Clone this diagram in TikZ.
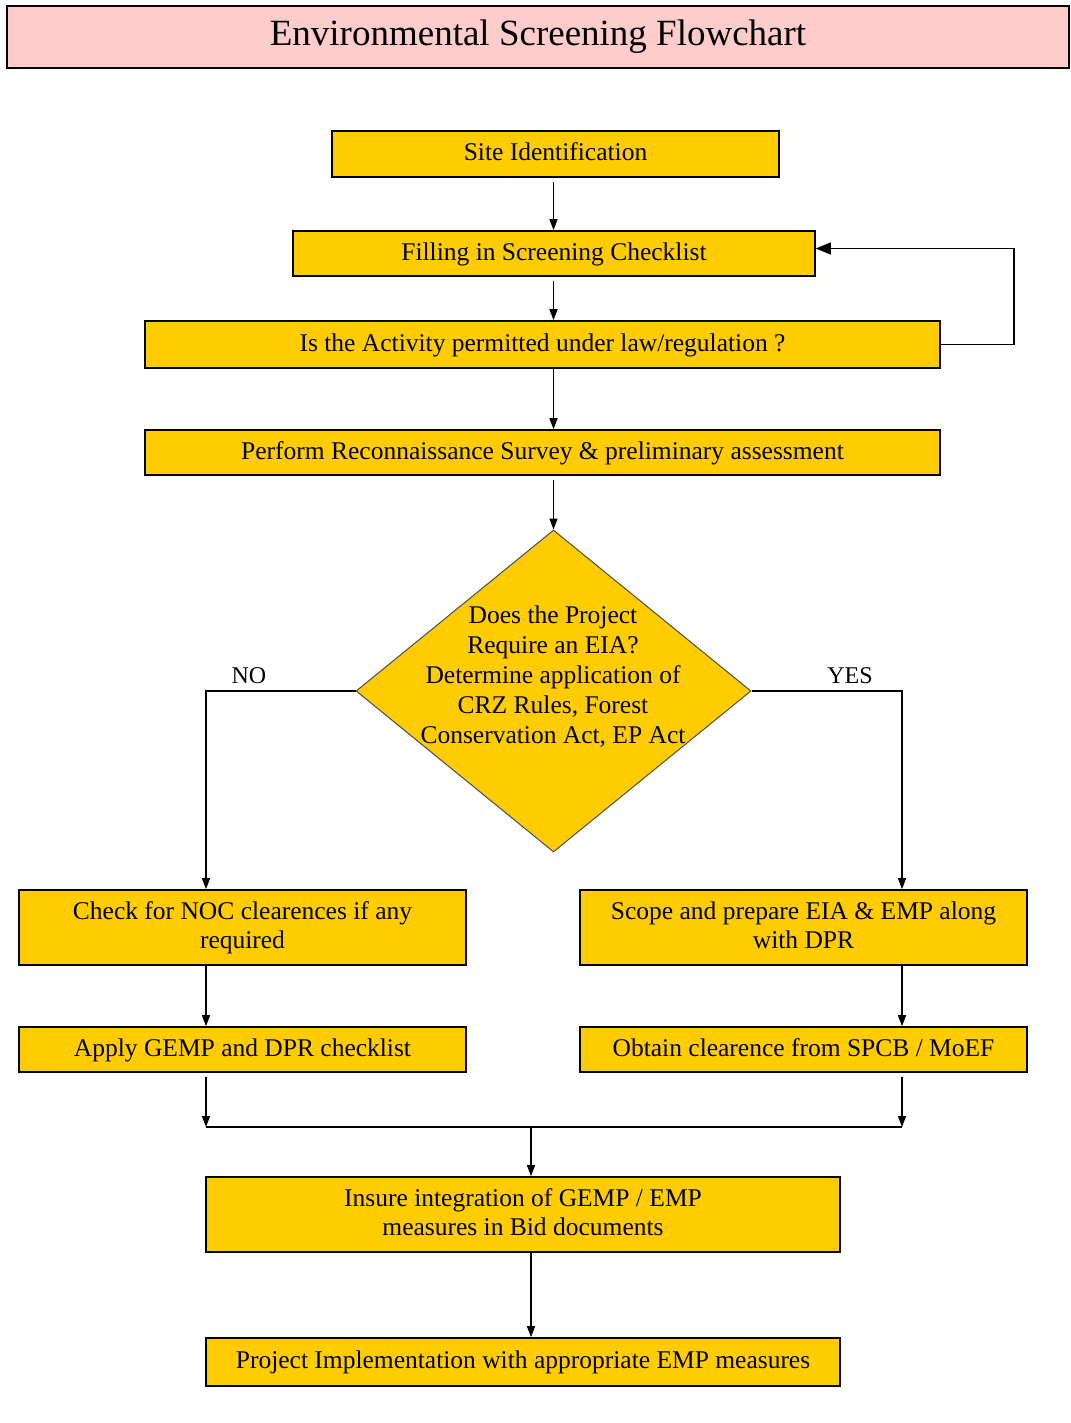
\documentclass[tikz,border=0pt]{standalone}
\usepackage{fontspec}
\setmainfont{Liberation Serif}
\usetikzlibrary{arrows.meta,shapes.geometric}
\definecolor{gold}{HTML}{FFCC00}
\definecolor{pinkbg}{HTML}{FFCCCC}
\newcommand{\topstrut}{\rule{0pt}{19pt}}
\newcommand{\botstrut}{\rule[-5pt]{0pt}{5pt}}
\tikzset{
  box/.style={draw=black, line width=1.6pt, fill=gold, rectangle, inner sep=0pt, align=center,
    font=\fontsize{25.5}{29}\selectfont, execute at begin node=\topstrut, execute at end node=\botstrut},
  conn/.style={line width=1.4pt, -{Triangle[length=11pt,width=8pt]}},
  plain/.style={line width=1.4pt},
  lbl/.style={font=\fontsize{24}{26}\selectfont, inner sep=0pt}
}
\begin{document}
\begin{tikzpicture}[x=1pt,y=-1pt]
\useasboundingbox (0,0) rectangle (1070,1423);
\node[draw=black, line width=2pt, fill=pinkbg, minimum width=1062, minimum height=62, inner sep=0pt,
  font=\fontsize{37}{40}\selectfont] (title) at (538,37) {Environmental Screening Flowchart};

\node[box, minimum width=447, minimum height=46] (site) at (555.5,154) {Site Identification};
\node[box, minimum width=522, minimum height=45] (fill) at (554,253.5) {Filling in Screening Checklist};
\node[box, minimum width=795, minimum height=47] (is) at (542.5,344.5) {Is the Activity permitted under law/regulation ?};
\node[box, minimum width=795, minimum height=45] (perf) at (542.5,452.5) {Perform Reconnaissance Survey \& preliminary assessment};
\node[draw=black!70, line width=1pt, fill=gold, diamond, minimum width=395, minimum height=322, inner sep=0pt] (dia) at (553.5,691) {};
\node[align=center, inner sep=0pt, font=\fontsize{25.5}{30}\selectfont] (diat) at (553,677) {Does the Project\\Require an EIA?\\Determine application of\\CRZ Rules, Forest\\Conservation Act, EP Act};

\node[box, minimum width=447, minimum height=75] (check) at (242.5,927.5) {Check for NOC clearences if any\\required};
\node[box, minimum width=447, minimum height=75] (scope) at (803.5,927.5) {Scope and prepare EIA \& EMP along\\with DPR};
\node[box, minimum width=447, minimum height=45] (apply) at (242.5,1049.5) {Apply GEMP and DPR checklist};
\node[box, minimum width=447, minimum height=45] (obtain) at (803.5,1049.5) {Obtain clearence from SPCB / MoEF};
\node[box, minimum width=634, minimum height=75] (insure) at (523,1214.5) {Insure integration of GEMP / EMP\\measures in Bid documents};
\node[box, minimum width=634, minimum height=48] (proj) at (523,1362) {Project Implementation with appropriate EMP measures};

\node[lbl] (no) at (249,676) {NO};
\node[lbl] (yes) at (850,676) {YES};

\coordinate (jl) at (206,1127);
\coordinate (jr) at (902,1127);
\coordinate (jm) at (531,1127);

\draw[conn] ([yshift=-4]site.south -| dia.north) -- (fill.north -| dia.north);
\draw[conn] ([yshift=-4]fill.south -| dia.north) -- (is.north -| dia.north);
\draw[conn] (is.south -| dia.north) -- (perf.north -| dia.north);
\draw[conn] ([yshift=-4]perf.south -| dia.north) -- (dia.north);
\draw[line width=1.4pt, -{Triangle[length=15pt,width=12pt]}] (is.east) -- ++(73,0) |- ([yshift=5]fill.east);
\draw[conn] (dia.west) -| ([xshift=-36.5]check.north);
\draw[conn] (dia.east) -| ([xshift=98.5]scope.north);
\draw[conn] ([xshift=-36.5]check.south) -- ([xshift=-36.5]apply.north);
\draw[conn] ([xshift=98.5]scope.south) -- ([xshift=98.5]obtain.north);
\draw[conn] ([xshift=-36.5,yshift=-4]apply.south) -- (jl);
\draw[conn] ([xshift=98.5,yshift=-4]obtain.south) -- (jr);
\draw[plain] (jl) -- (jr);
\draw[conn] (jm) -- ([xshift=8]insure.north);
\draw[conn] ([xshift=8]insure.south) -- ([xshift=8]proj.north);
\end{tikzpicture}
\end{document}
